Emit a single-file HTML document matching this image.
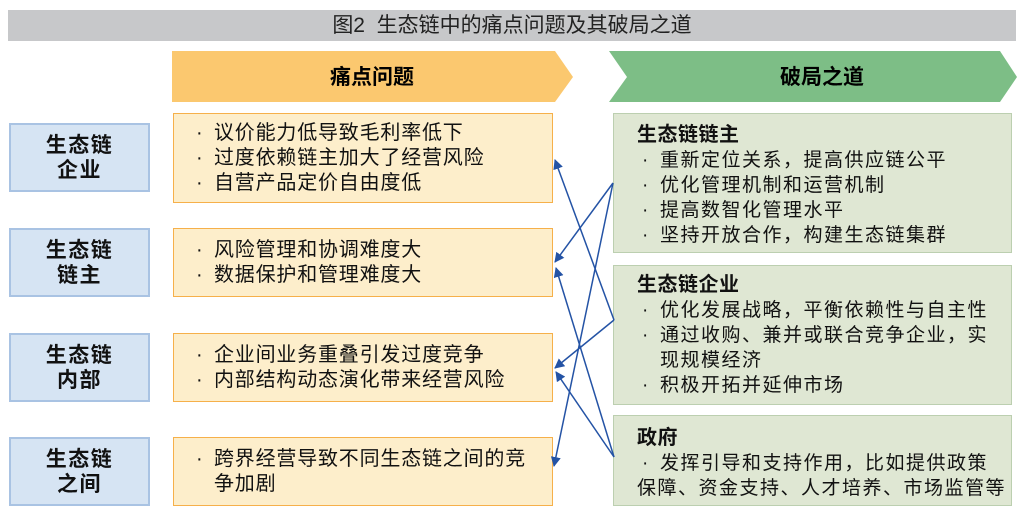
<!DOCTYPE html>
<html><head><meta charset="utf-8"><style>
body{margin:0;width:1020px;height:512px;background:#fff;position:relative;overflow:hidden;font-family:"Liberation Sans","Noto Sans CJK SC",sans-serif;color:#111}
.a{position:absolute;box-sizing:border-box}
.title{left:8px;top:10px;width:1008px;height:31px;background:#c7c8ca;text-align:center;font-size:21px;line-height:31px;color:#222}
.l{left:9px;width:141px;height:69px;background:#d6e4f3;border:2px solid #a9c3e3;font-weight:bold;font-size:21px;letter-spacing:1.5px;text-align:center;display:flex;align-items:center;justify-content:center;line-height:25px}
.o{left:173px;width:380px;background:#fdeecb;border:1.5px solid #f6b04a;font-size:20px;letter-spacing:0.8px;line-height:25px;padding-left:22px;display:flex;flex-direction:column;justify-content:center;white-space:nowrap}
.g{left:613px;width:399px;background:#dfe7d3;border:1.5px solid #bccfb0;font-size:19px;letter-spacing:1.5px;line-height:25px;padding-left:28px;padding-top:10px;white-space:nowrap}
.g b{font-size:20px;display:block;letter-spacing:0.5px;margin-left:-5px}
s{text-decoration:none;display:inline-block;width:18px}
.i{padding-left:18px}
</style></head><body>
<div class="a title">图2&nbsp; 生态链中的痛点问题及其破局之道</div>
<svg class="a" style="left:0;top:0" width="1020" height="512">
<polygon points="172,51 555,51 573,77 555,102 172,102" fill="#fbc86f"/>
<polygon points="609,51 1000,51 1017,77 1000,102 609,102 627,77" fill="#7dbe86"/>
<text x="372" y="84" font-size="21" font-weight="bold" text-anchor="middle" font-family="Liberation Sans,Noto Sans CJK SC,sans-serif">痛点问题</text>
<text x="822" y="84" font-size="21" font-weight="bold" text-anchor="middle" font-family="Liberation Sans,Noto Sans CJK SC,sans-serif">破局之道</text>
</svg>
<div class="a l" style="top:123px">生态链<br>企业</div>
<div class="a l" style="top:228px">生态链<br>链主</div>
<div class="a l" style="top:333px">生态链<br>内部</div>
<div class="a l" style="top:437px">生态链<br>之间</div>
<div class="a o" style="top:113px;height:90px">
<div><s>·</s>议价能力低导致毛利率低下</div><div><s>·</s>过度依赖链主加大了经营风险</div><div><s>·</s>自营产品定价自由度低</div></div>
<div class="a o" style="top:228px;height:69px"><div><s>·</s>风险管理和协调难度大</div><div><s>·</s>数据保护和管理难度大</div></div>
<div class="a o" style="top:333px;height:69px"><div><s>·</s>企业间业务重叠引发过度竞争</div><div><s>·</s>内部结构动态演化带来经营风险</div></div>
<div class="a o" style="top:437px;height:69px"><div><s>·</s>跨界经营导致不同生态链之间的竞</div><div class="i">争加剧</div></div>
<div class="a g" style="top:113px;height:140px;padding-top:9px"><b>生态链链主</b>
<div><s>·</s>重新定位关系，提高供应链公平</div><div><s>·</s>优化管理机制和运营机制</div><div><s>·</s>提高数智化管理水平</div><div><s>·</s>坚持开放合作，构建生态链集群</div></div>
<div class="a g" style="top:265px;height:140px;padding-top:7px"><b>生态链企业</b>
<div><s>·</s>优化发展战略，平衡依赖性与自主性</div><div><s>·</s>通过收购、兼并或联合竞争企业，实</div><div class="i">现规模经济</div><div><s>·</s>积极开拓并延伸市场</div></div>
<div class="a g" style="top:415px;height:91px;padding-top:10px"><b>政府</b>
<div><s>·</s>发挥引导和支持作用，比如提供政策</div><div style="margin-left:-5px">保障、资金支持、人才培养、市场监管等</div></div>
<svg class="a" style="left:0;top:0" width="1020" height="512">
<defs><marker id="m" markerWidth="10" markerHeight="10" refX="9" refY="5" orient="auto" markerUnits="userSpaceOnUse"><path d="M0,0 L10,5 L0,10 z" fill="#2453a5"/></marker></defs>
<g stroke="#2453a5" stroke-width="1.5" fill="none" marker-end="url(#m)">
<line x1="613" y1="183" x2="555" y2="262"/>
<line x1="613" y1="183" x2="554" y2="466"/>
<line x1="614" y1="320" x2="555" y2="160"/>
<line x1="614" y1="320" x2="555" y2="368"/>
<line x1="614" y1="457" x2="556" y2="268"/>
<line x1="614" y1="457" x2="556" y2="372"/>
</g></svg>
</body></html>
